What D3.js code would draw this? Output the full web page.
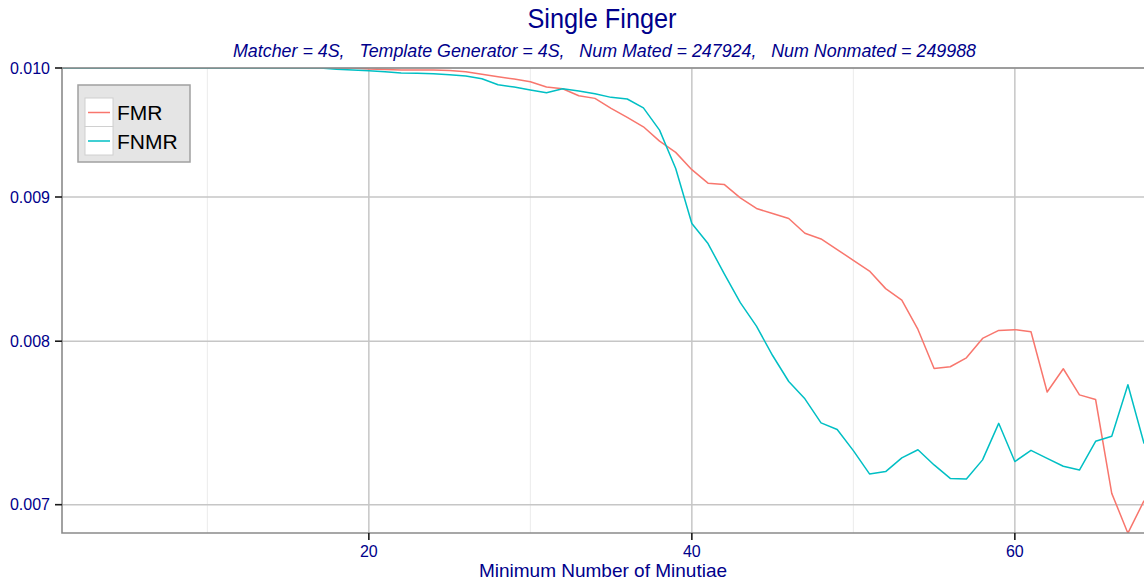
<!DOCTYPE html>
<meta charset="utf-8">
<style>
  body { margin: 0; background: #fff; }
  text { font-family: "Liberation Sans", Arial, sans-serif; fill: #00008b; }
  .grid-major { stroke: #c6c6c6; stroke-width: 1.5; }
  .grid-minor { stroke: #ebebeb; stroke-width: 1; }
  .tick-mark { stroke: #1a1a1a; stroke-width: 1.6; }
  .border { stroke: #8a8a8a; stroke-width: 1.6; fill: none; }
  .series { fill: none; stroke-width: 1.5; stroke-linejoin: round; }
</style>
<body>
<script src="https://d3js.org/d3.v7.min.js"></script>
<script>
var minutiae = [1, 2, 3, 4, 5, 6, 7, 8, 9, 10, 11, 12, 13, 14, 15, 16, 17, 18, 19, 20,
  21, 22, 23, 24, 25, 26, 27, 28, 29, 30, 31, 32, 33, 34, 35, 36, 37, 38, 39, 40,
  41, 42, 43, 44, 45, 46, 47, 48, 49, 50, 51, 52, 53, 54, 55, 56, 57, 58, 59, 60,
  61, 62, 63, 64, 65, 66, 67, 68];

var fmr = [0.0100, 0.0100, 0.0100, 0.0100, 0.0100, 0.0100, 0.0100, 0.0100, 0.0100, 0.0100,
  0.0100, 0.0100, 0.0100, 0.0100, 0.0100, 0.0100, 0.0100, 0.0100, 0.0100, 0.009992,
  0.009988, 0.009984, 0.009984, 0.009984, 0.009980, 0.009970, 0.009949, 0.009929, 0.009910, 0.009889,
  0.009846, 0.009832, 0.009776, 0.009755, 0.009676, 0.009605, 0.009531, 0.009420, 0.009334, 0.009203,
  0.009102, 0.009093, 0.008993, 0.008916, 0.008879, 0.008843, 0.008737, 0.008697, 0.008622, 0.008546,
  0.008472, 0.008351, 0.008273, 0.008077, 0.007824, 0.007835, 0.007892, 0.008018, 0.008071, 0.008076,
  0.008062, 0.007675, 0.007822, 0.007657, 0.007628, 0.007065, 0.006839, 0.007023];

var fnmr = [0.0100, 0.0100, 0.0100, 0.0100, 0.0100, 0.0100, 0.0100, 0.0100, 0.0100, 0.0100,
  0.0100, 0.0100, 0.0100, 0.0100, 0.0100, 0.0100, 0.0100, 0.009989, 0.009984, 0.009978,
  0.009970, 0.009959, 0.009957, 0.009953, 0.009945, 0.009935, 0.009913, 0.009864, 0.009846, 0.009822,
  0.009800, 0.009832, 0.009814, 0.009792, 0.009763, 0.009750, 0.009680, 0.009505, 0.009212, 0.008807,
  0.008664, 0.008454, 0.008256, 0.008099, 0.007907, 0.007741, 0.007632, 0.007484, 0.007443, 0.007316,
  0.007178, 0.007192, 0.007273, 0.007321, 0.007231, 0.007152, 0.007149, 0.007261, 0.007481, 0.007251,
  0.007318, 0.007270, 0.007223, 0.007201, 0.007372, 0.007402, 0.007720, 0.007358];

var seriesNames = ["FMR", "FNMR"];
var seriesColors = ["#F8766D", "#00BFC4"];
var xMajorTicks = [20, 40, 60];
var xMinorTicks = [10, 30, 50];
var yTicks = [0.007, 0.008, 0.009, 0.010];

var titleText = "Single Finger";
var subtitleText = "Matcher = 4S,   Template Generator = 4S,   Num Mated = 247924,   Num Nonmated = 249988";
var xLabel = "Minimum Number of Minutiae";

var width = 1144, height = 582;
var panel = {left: 62, top: 68, right: 1147, bottom: 533};

var svg = d3.select("body").append("svg")
    .attr("width", width)
    .attr("height", height);

var x = d3.scaleLinear()
    .domain([1, 68])
    .range([panel.left, panel.left + 67 * 16.15]);

var y = d3.scaleLog()
    .domain([0.00684, 0.0100])
    .range([panel.bottom, panel.top]);

svg.append("clipPath").attr("id", "clip")
  .append("rect")
    .attr("x", panel.left).attr("y", panel.top)
    .attr("width", panel.right - panel.left).attr("height", panel.bottom - panel.top);

// grid
var grid = svg.append("g");
grid.selectAll(".xminor").data(xMinorTicks).enter().append("line")
    .attr("class", "grid-minor")
    .attr("x1", function(d) { return x(d); }).attr("x2", function(d) { return x(d); })
    .attr("y1", panel.top).attr("y2", panel.bottom);
grid.selectAll(".ymajor").data(yTicks).enter().append("line")
    .attr("class", "grid-major")
    .attr("x1", panel.left).attr("x2", panel.right)
    .attr("y1", function(d) { return y(d); }).attr("y2", function(d) { return y(d); });
grid.selectAll(".xmajor").data(xMajorTicks).enter().append("line")
    .attr("class", "grid-major")
    .attr("x1", function(d) { return x(d); }).attr("x2", function(d) { return x(d); })
    .attr("y1", panel.top).attr("y2", panel.bottom);

// lines
var rows = minutiae.map(function(m, i) { return {m: m, v: [fmr[i], fnmr[i]]}; });
var line = d3.line();
var lines = svg.append("g").attr("clip-path", "url(#clip)");
seriesNames.forEach(function(name, s) {
  lines.append("path")
      .attr("class", "series")
      .attr("stroke", seriesColors[s])
      .attr("d", line(rows.map(function(r) { return [x(r.m), y(r.v[s])]; })));
});

// panel border (left, top, bottom)
svg.append("path")
    .attr("class", "border")
    .attr("d", "M" + panel.right + "," + panel.top + "H" + panel.left + "V" + panel.bottom + "H" + panel.right);

// y axis
var yAxis = svg.append("g");
yAxis.selectAll("line").data(yTicks).enter().append("line")
    .attr("class", "tick-mark")
    .attr("x1", panel.left - 7).attr("x2", panel.left)
    .attr("y1", function(d) { return y(d); }).attr("y2", function(d) { return y(d); });
yAxis.selectAll("text").data(yTicks).enter().append("text")
    .attr("x", panel.left - 12)
    .attr("y", function(d) { return y(d); })
    .attr("dy", "0.36em")
    .attr("text-anchor", "end")
    .style("font-size", "16px")
    .text(d3.format(".3f"));

// x axis
var xAxis = svg.append("g");
xAxis.selectAll("line").data(xMajorTicks).enter().append("line")
    .attr("class", "tick-mark")
    .attr("x1", function(d) { return x(d); }).attr("x2", function(d) { return x(d); })
    .attr("y1", panel.bottom).attr("y2", panel.bottom + 7);
xAxis.selectAll("text").data(xMajorTicks).enter().append("text")
    .attr("x", function(d) { return x(d); })
    .attr("y", panel.bottom + 24)
    .attr("text-anchor", "middle")
    .style("font-size", "16px")
    .text(function(d) { return d; });

svg.append("text")
    .attr("x", 603).attr("y", 577)
    .attr("text-anchor", "middle")
    .style("font-size", "19px")
    .text(xLabel);

// titles
svg.append("text")
    .attr("x", 602).attr("y", 28)
    .attr("text-anchor", "middle")
    .attr("textLength", 149).attr("lengthAdjust", "spacingAndGlyphs")
    .style("font-size", "27px")
    .text(titleText);

svg.append("text")
    .attr("x", 604.5).attr("y", 57)
    .attr("text-anchor", "middle")
    .attr("textLength", 743).attr("lengthAdjust", "spacingAndGlyphs")
    .style("font-size", "18px")
    .style("font-style", "italic")
    .style("white-space", "pre")
    .text(subtitleText);

// legend
var legend = svg.append("g");
legend.append("rect")
    .attr("x", 78).attr("y", 85).attr("width", 112).attr("height", 77)
    .attr("fill", "#e5e5e5").attr("stroke", "#a0a0a0").attr("stroke-width", 1.5);
var keys = legend.selectAll(".key").data(seriesNames).enter().append("g")
    .attr("transform", function(d, i) { return "translate(85," + (98 + i * 28.5) + ")"; });
keys.append("rect")
    .attr("width", 28).attr("height", 28.5)
    .attr("fill", "#fff").attr("stroke", "#d0d0d0").attr("stroke-width", 1);
keys.append("line")
    .attr("x1", 3).attr("x2", 25).attr("y1", 14.5).attr("y2", 14.5)
    .attr("stroke", function(d, i) { return seriesColors[i]; })
    .attr("stroke-width", 1.5);
keys.append("text")
    .attr("x", 32).attr("y", 22)
    .style("font-size", "21px")
    .style("fill", "#000")
    .text(function(d) { return d; });
</script>
</body>
</html>
